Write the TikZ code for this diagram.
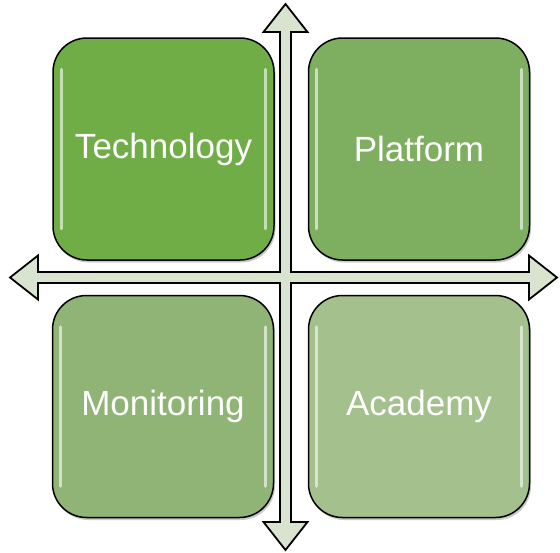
\documentclass[tikz,border=0pt]{standalone}
\usepackage{fontspec}
\setmainfont{Liberation Sans}
\usetikzlibrary{shadows}
\definecolor{arrowfill}{HTML}{D8E4CF}
\definecolor{cTech}{HTML}{70AD47}
\definecolor{cPlat}{HTML}{7EAE5F}
\definecolor{cMon}{HTML}{90B476}
\definecolor{cAcad}{HTML}{A3C08D}
\tikzset{
  quadbox/.style={draw=black, line width=1.5pt, rounded corners=34pt,
    minimum width=221pt, minimum height=222pt, inner sep=0pt,
    text=white, font=\fontsize{35}{42}\selectfont,
    drop shadow={shadow xshift=1.5pt, shadow yshift=-2.5pt, opacity=0.35, fill=black!60}},
  gloss/.style={white, opacity=0.6, line width=3pt, line cap=round},
  crossarrow/.style={draw=black, line width=1.8pt, fill=arrowfill, line join=miter}
}
\begin{document}
\begin{tikzpicture}[x=1pt,y=-1pt]
\useasboundingbox (0,0) rectangle (560,552);
% cross arrow
\draw[crossarrow]
  (285.5,4) -- (307.5,32) -- (291,32) -- (291,272) -- (529,272) -- (529,255.5)
  -- (557,277.5) -- (529,299.5) -- (529,283) -- (291,283) -- (291,522)
  -- (307.5,522) -- (285.5,550) -- (263.5,522) -- (280,522) -- (280,283)
  -- (38,283) -- (38,299.5) -- (10,277.5) -- (38,255.5) -- (38,272)
  -- (280,272) -- (280,32) -- (263.5,32) -- cycle;
% boxes
\node[quadbox, fill=cTech] (tech) at (163.5,149) {Technology};
\node[quadbox, fill=cPlat] (plat) at (419,149) {Platform};
\node[quadbox, fill=cMon] (mon) at (163,406.5) {Monitoring};
\node[quadbox, fill=cAcad] (acad) at (419,406.5) {Academy};
% gloss highlights
\foreach \b in {tech,plat,mon,acad}{
  \draw[gloss] ([xshift=9pt,yshift=-32pt]\b.north west) -- ([xshift=9pt,yshift=32pt]\b.south west);
  \draw[gloss] ([xshift=-9pt,yshift=-32pt]\b.north east) -- ([xshift=-9pt,yshift=32pt]\b.south east);
}
\end{tikzpicture}
\end{document}
